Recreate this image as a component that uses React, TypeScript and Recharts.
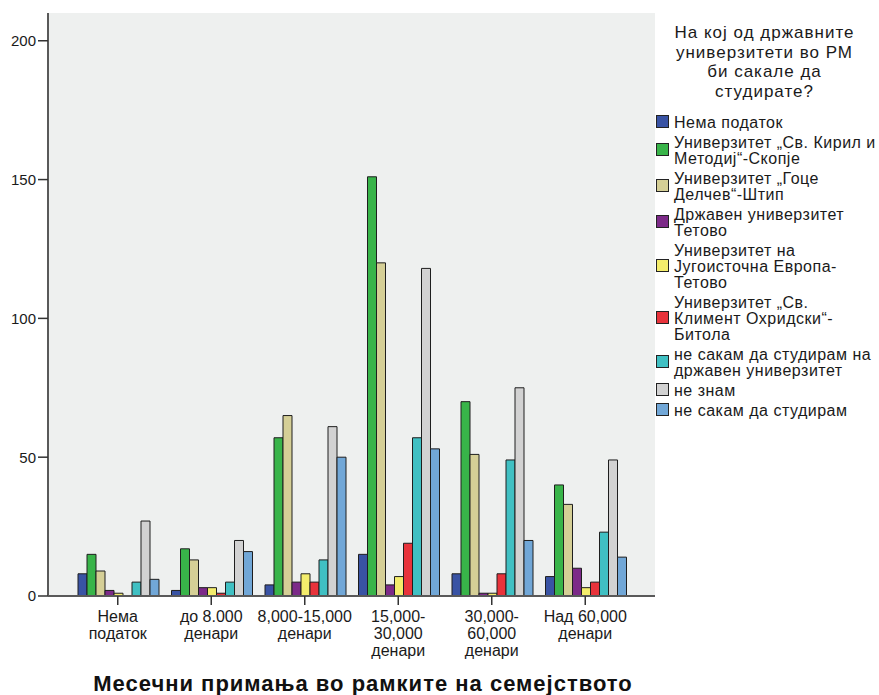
import { BarChart, Bar, XAxis, YAxis, CartesianGrid, Legend } from 'recharts'

const FONT = '"Liberation Sans", Arial, sans-serif'

const categories = [
  'Нема податок',
  'до 8.000 денари',
  '8,000-15,000 денари',
  '15,000-30,000 денари',
  '30,000-60,000 денари',
  'Над 60,000 денари',
]
const tickLines = [
  ['Нема', 'податок'],
  ['до 8.000', 'денари'],
  ['8,000-15,000', 'денари'],
  ['15,000-', '30,000', 'денари'],
  ['30,000-', '60,000', 'денари'],
  ['Над 60,000', 'денари'],
]
const yTicks = [0, 50, 100, 150, 200]

const nemaPodatok = [8, 2, 4, 15, 8, 7]
const ukim = [15, 17, 57, 151, 70, 40]
const ugd = [9, 13, 65, 120, 51, 33]
const dut = [2, 3, 5, 4, 1, 10]
const seeu = [1, 3, 8, 7, 1, 3]
const uklo = [0, 1, 5, 19, 8, 5]
const neDrzaven = [5, 5, 13, 57, 49, 23]
const neZnam = [27, 20, 61, 118, 75, 49]
const neStudiram = [6, 16, 50, 53, 20, 14]

const legendTitle = ['На кој од државните', 'универзитети во РМ', 'би сакале да', 'студирате?']
const xTitle = 'Месечни примања во рамките на семејството'

const series = [
  { key: 'nema', values: nemaPodatok, color: '#3953a4', lines: ['Нема податок'] },
  { key: 'ukim', values: ukim, color: '#38b449', lines: ['Универзитет „Св. Кирил и', 'Методиј“-Скопје'] },
  { key: 'ugd', values: ugd, color: '#d5cf96', lines: ['Универзитет „Гоце', 'Делчев“-Штип'] },
  { key: 'dut', values: dut, color: '#7c2a88', lines: ['Државен универзитет', 'Тетово'] },
  { key: 'seeu', values: seeu, color: '#f4ed6c', lines: ['Универзитет на', 'Југоисточна Европа-', 'Тетово'] },
  { key: 'uklo', values: uklo, color: '#e8333b', lines: ['Универзитет „Св.', 'Климент Охридски“-', 'Битола'] },
  { key: 'neDrz', values: neDrzaven, color: '#40c0c3', lines: ['не сакам да студирам на', 'државен универзитет'] },
  { key: 'neZnam', values: neZnam, color: '#d2d2d2', lines: ['не знам'] },
  { key: 'neStud', values: neStudiram, color: '#71a7d7', lines: ['не сакам да студирам'] },
]

const data = categories.map((name, i) => {
  const row: Record<string, string | number> = { name }
  series.forEach((s) => {
    row[s.key] = s.values[i]
  })
  return row
})

function CategoryTick({ x, y, payload }: any) {
  const idx = categories.indexOf(payload.value)
  const lines = tickLines[idx] ?? [String(payload.value)]
  return (
    <text x={x} y={y} textAnchor="middle" fill="#1a1a1a" fontSize={16} fontFamily={FONT}>
      {lines.map((l, i) => (
        <tspan key={i} x={x} dy={i === 0 ? 15 : 17}>
          {l}
        </tspan>
      ))}
    </text>
  )
}

function LegendBox() {
  return (
    <div style={{ fontFamily: FONT, color: '#1a1a1a' }}>
      <div style={{ textAlign: 'center', fontSize: 17, lineHeight: '19.5px', letterSpacing: 1, marginBottom: 14 }}>
        {legendTitle.map((t) => (
          <div key={t}>{t}</div>
        ))}
      </div>
      {series.map((s) => (
        <div key={s.key} style={{ display: 'flex', alignItems: 'center', marginBottom: 4 }}>
          <div
            style={{
              width: 11,
              height: 11,
              background: s.color,
              border: '1px solid #222',
              marginLeft: 6,
              marginRight: 5,
              flexShrink: 0,
              transform: 'translateY(-2px)',
            }}
          />
          <div style={{ fontSize: 16, lineHeight: '16px', letterSpacing: 0.5, whiteSpace: 'nowrap' }}>
            {s.lines.map((l) => (
              <div key={l}>{l}</div>
            ))}
          </div>
        </div>
      ))}
    </div>
  )
}

export default function App() {
  const border = { stroke: '#595959', strokeWidth: 2 }
  return (
    <div style={{ position: 'absolute', left: 0, top: 0, width: 879, height: 695, background: '#fff', fontFamily: FONT }}>
      <BarChart
        width={879}
        height={695}
        data={data}
        margin={{ top: 13, right: 224, left: 0, bottom: 39 }}
        barCategoryGap={7}
        barGap={0}
      >
        <CartesianGrid fill="#eef0ef" horizontal={false} vertical={false} />
        <XAxis
          dataKey="name"
          height={60}
          padding={{ left: 23, right: 23 }}
          interval={0}
          tickSize={9}
          tickMargin={2}
          tickLine={{ stroke: '#333', strokeWidth: 1.5 }}
          axisLine={border}
          tick={<CategoryTick />}
        />
        <XAxis xAxisId="top" dataKey="name" orientation="top" height={0} tick={false} tickLine={false} axisLine={border} />
        <YAxis
          width={48}
          domain={[0, 210]}
          ticks={yTicks}
          interval={0}
          tickSize={10}
          tickMargin={2}
          tickLine={{ stroke: '#333', strokeWidth: 1.5 }}
          axisLine={border}
          tick={{ fill: '#1a1a1a', fontSize: 15, fontFamily: FONT }}
        />
        <YAxis yAxisId="right" orientation="right" width={0} tick={false} tickLine={false} axisLine={border} />
        <Legend
          layout="vertical"
          align="center"
          verticalAlign="middle"
          wrapperStyle={{ left: 650, top: 23, width: 229 }}
          content={<LegendBox />}
        />
        {series.map((s) => (
          <Bar
            key={s.key}
            dataKey={s.key}
            fill={s.color}
            stroke="#1e1e1e"
            strokeWidth={1}
            isAnimationActive={false}
          />
        ))}
      </BarChart>
      <div
        style={{
          position: 'absolute',
          left: 48,
          width: 630,
          top: 671,
          textAlign: 'center',
          fontWeight: 'bold',
          fontSize: 22,
          letterSpacing: 1,
          lineHeight: '26px',
          color: '#111',
        }}
      >
        {xTitle}
      </div>
    </div>
  )
}
